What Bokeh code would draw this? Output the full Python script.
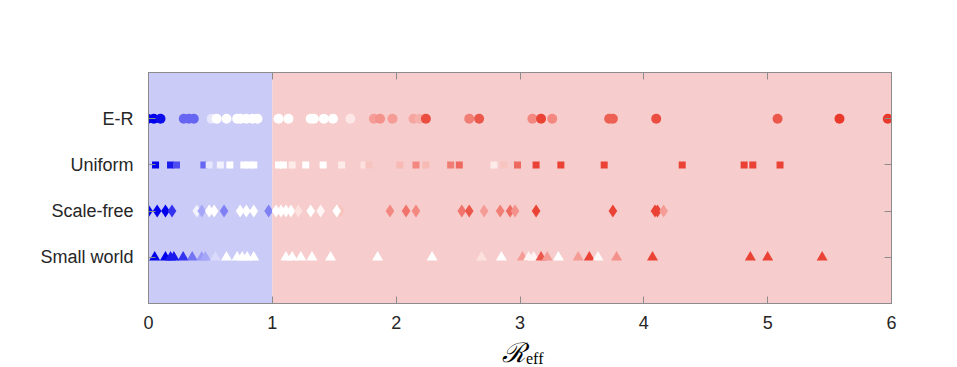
from bokeh.plotting import figure
from bokeh.models import Range1d, LinearAxis, FixedTicker, ColumnDataSource, Div
from bokeh.layouts import column
from bokeh.embed import file_html
from bokeh.resources import INLINE

# ---- data ----
row_names = ["Small world", "Scale-free", "Uniform", "E-R"]
row_pos = [1, 2, 3, 4]
x_ticks = [0, 1, 2, 3, 4, 5, 6]
x_label_main = "ℛ"
x_label_sub = "eff"

er_x = [-0.005, 0.043, 0.097, 0.285, 0.326, 0.366, 0.51, 0.55, 0.63, 0.716, 0.743, 0.79, 0.84, 0.88,
        1.05, 1.13, 1.31, 1.335, 1.416, 1.49, 1.63, 1.82, 1.87, 1.97, 2.14, 2.19, 2.24, 2.59, 2.67,
        3.10, 3.17, 3.26, 3.72, 3.75, 4.10, 5.08, 5.58, 5.97]
er_s = [-1, -1, -0.95, -0.6, -0.6, -0.6, -0.1, 0, 0, 0, 0, 0, 0, 0,
        0, 0, 0, 0, 0, 0, 0.12, 0.5, 0.55, 0.5, 0.45, 0.4, 0.9, 0.65, 0.85,
        0.6, 0.95, 0.6, 0.8, 0.8, 0.9, 0.85, 1.0, 1.0]

un_x = [0.057, 0.178, 0.226, 0.447, 0.49, 0.58, 0.657, 0.77, 0.81, 0.85,
        1.05, 1.09, 1.16, 1.27, 1.41, 1.56, 1.74, 1.78, 2.03, 2.16, 2.24, 2.44, 2.51,
        2.79, 2.87, 2.98, 3.13, 3.33, 3.68, 4.31, 4.81, 4.88, 5.10]
un_s = [-1, -0.9, -0.7, -0.6, -0.1, -0.05, 0, 0, 0, 0,
        0, 0, 0.1, 0, 0, 0.1, 0.15, 0.3, 0.35, 0.6, 0.35, 0.65, 0.75,
        0.1, 0.3, 0.75, 0.95, 0.95, 0.95, 0.95, 0.95, 0.95, 0.95]

sf_x = [0.0, 0.07, 0.137, 0.19, 0.39, 0.43, 0.49, 0.53, 0.61, 0.74, 0.79, 0.85, 0.97,
        1.03, 1.07, 1.11, 1.15, 1.21, 1.31, 1.39, 1.55, 1.52, 1.95, 2.08, 2.16,
        2.53, 2.59, 2.71, 2.84, 2.92, 2.96, 3.13, 3.75, 4.09, 4.11, 4.16]
sf_s = [-1, -1, -1, -0.8, -0.05, -0.35, 0, 0, -0.5, 0, 0, 0, -0.5,
        0, 0, 0, 0, 0.15, 0, 0.05, 0.3, 0, 0.6, 0.7, 0.6,
        0.7, 0.85, 0.5, 0.65, 0.75, 0.55, 0.95, 0.95, 0.95, 0.95, 0.5]

sw_x = [0.05, 0.137, 0.178, 0.205, 0.28, 0.353, 0.43, 0.46, 0.54, 0.63, 0.716, 0.757, 0.797, 0.85,
        1.11, 1.16, 1.23, 1.32, 1.47, 1.85, 2.29, 2.69, 2.85, 3.02, 3.07, 3.11, 3.17, 3.22,
        3.31, 3.47, 3.56, 3.63, 3.78, 4.07, 4.86, 5.00, 5.44]
sw_s = [-1, -1, -0.9, -0.9, -0.8, -0.55, -0.4, -0.35, -0.15, 0, 0, 0, 0, 0,
        0, 0, 0, 0, 0, 0, 0, 0.15, 0, 0.5, 0.05, 0.05, 0.85, 0.5,
        0, 0.5, 0.95, 0.03, 0.55, 0.95, 0.95, 0.95, 0.95]


def shade(s):
    if s < 0:
        t = -s
        c = (255 - t * 255, 255 - t * 255, 255 - t * 20)
    else:
        t = s
        c = (255 - t * (255 - 233), 255 - t * (255 - 57), 255 - t * (255 - 43))
    return "#%02x%02x%02x" % tuple(int(round(v)) for v in c)


GRAY = "#8c8c8c"
p = figure(frame_width=743, frame_height=231, width=949, height=334,
           output_backend="svg", toolbar_location=None,
           x_range=Range1d(0, 6), y_range=Range1d(0, 5),
           min_border_left=148, min_border_top=72, min_border_right=58, min_border_bottom=31)
p.background_fill_color = "white"
p.border_fill_color = "white"
p.outline_line_color = GRAY
p.xgrid.visible = False
p.ygrid.visible = False

# shaded regions
p.quad(left=[0], right=[1], bottom=[0], top=[5], fill_color="#cbcbf7", line_color=None)
p.quad(left=[1], right=[6], bottom=[0], top=[5], fill_color="#f7cccc", line_color=None)

rows = [
    (er_x, er_s, 4, "circle", 10),
    (un_x, un_s, 3, "square", 7),
    (sf_x, sf_s, 2, "diamond", 13),
    (sw_x, sw_s, 1, "triangle", 11),
]
for xs, ss, yv, mk, sz in rows:
    src = ColumnDataSource(dict(x=xs, y=[yv] * len(xs), c=[shade(s) for s in ss]))
    p.scatter("x", "y", source=src, marker=mk, size=sz, fill_color="c", line_color=None)

tick_font = "Liberation Sans"
p.xaxis.ticker = FixedTicker(ticks=x_ticks)
p.yaxis.ticker = FixedTicker(ticks=row_pos)
p.yaxis.major_label_overrides = {pos: name for pos, name in zip(row_pos, row_names)}
for ax in (p.xaxis[0], p.yaxis[0]):
    ax.major_tick_in = 7
    ax.major_tick_out = 0
    ax.minor_tick_line_color = None
    ax.axis_line_color = GRAY
    ax.major_tick_line_color = GRAY
    ax.major_label_text_font = tick_font
    ax.major_label_text_font_size = "18px"
    ax.major_label_text_color = "#262626"
p.xaxis.major_label_standoff = 12
p.yaxis.major_label_standoff = 15

top_ax = LinearAxis(ticker=FixedTicker(ticks=x_ticks),
                    major_label_overrides={t: "" for t in x_ticks},
                    major_tick_in=7, major_tick_out=0, minor_tick_line_color=None,
                    axis_line_color=GRAY, major_tick_line_color=GRAY)
right_ax = LinearAxis(ticker=FixedTicker(ticks=row_pos),
                      major_label_overrides={t: "" for t in row_pos},
                      major_tick_in=7, major_tick_out=0, minor_tick_line_color=None,
                      axis_line_color=GRAY, major_tick_line_color=GRAY)
p.add_layout(top_ax, "above")
p.add_layout(right_ax, "right")

# x-axis label (script R with subscript "eff") as HTML text below the plot
label_html = (
    '<span style="font-family:\'DejaVu Serif\';font-style:italic;font-size:27px;line-height:1;">'
    + x_label_main + '</span>'
    '<span style="font-family:\'Liberation Serif\';font-size:16px;line-height:1;'
    'position:relative;top:2px;">' + x_label_sub + '</span>'
)
q = Div(text=label_html, width=200, height=33,
        styles={"margin-left": "502px", "line-height": "1", "white-space": "nowrap",
                "color": "black", "overflow": "visible"})

open("out.html", "w").write(file_html(column(p, q, spacing=0), INLINE))
